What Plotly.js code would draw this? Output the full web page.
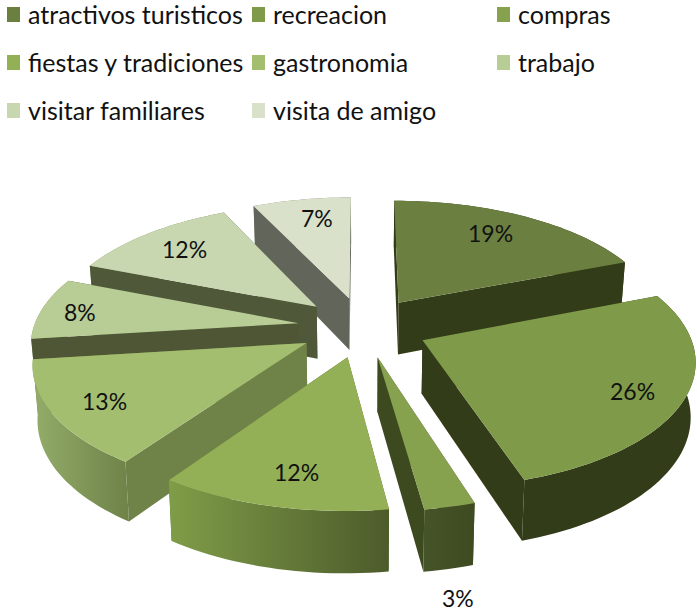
<!DOCTYPE html>
<html>
<head>
<meta charset="utf-8">
<script src="https://cdn.plot.ly/plotly-3.0.1.min.js"></script>
<style>html,body{margin:0;padding:0;background:#fff}#c{width:697px;height:612px}</style>
</head>
<body>
<div id="c"></div>
<script>
// ---- data ----
const categories = ["atractivos turisticos","recreacion","compras","fiestas y tradiciones","gastronomia","trabajo","visitar familiares","visita de amigo"];
const values = [19,26.2,2.6,11.8,13.4,8,12,7];
// ---- styles ----
const topColors  = ["#6b8040","#7f9a48","#87a24e","#93b056","#a4be70","#b8cc96","#c9d7b1","#d9e1cb"];
const wallColors = ["#333c19","#333c19","#3d4a20","#5a6b30","#6f8248","#4e5635","#50583a","#62655a"];
const rimLeft    = ["#333c19","#333c19","#46542a","#7f9d48","#93ad6a","#8aa060","#8aa060","#8a8f78"];
const rimRight   = ["#333c19","#333c19","#3e4a20","#4d5b2b","#6f8248","#6a7a48","#6a7a48","#6a6d60"];
const drawOrder  = [7,0,6,5,1,4,2,3];
const labelPos   = [[490,233],[632,391],[458,598],[296,472],[104,401],[80,312],[184,249],[317,218]];
const legendCols = [7,252,497];
const legendRows = [14,62,110];
const view = {cx:363, cy:327, q:0.463, k:0.00053, radius:265, pull:65, depth:53};
const font = "Lato, Carlito, sans-serif";

// ---- projection of the exploded pie ----
function project(X, Y, lower) {
  const s = 1 / (1 - view.k * Y);
  const x = view.cx + X * s, y = view.cy + view.q * Y * s;
  if (!lower) return [x, y];
  return [view.cx + (x - view.cx) * 0.985, y + view.depth * Math.pow(s, 0.85)];
}
const total = values.reduce((a, b) => a + b, 0);
let run = 0;
const slices = values.map(v => {
  const a = run / total * 2 * Math.PI; run += v;
  const b = run / total * 2 * Math.PI;
  const m = (a + b) / 2;
  return {a, b, ox: view.pull * Math.sin(m), oy: -view.pull * Math.cos(m)};
});
function rimPoint(sl, t) { return [sl.ox + view.radius * Math.sin(t), sl.oy - view.radius * Math.cos(t)]; }
function arc(sl) {
  const n = Math.max(4, Math.ceil((sl.b - sl.a) / 0.03)), pts = [];
  for (let i = 0; i <= n; i++) pts.push(rimPoint(sl, sl.a + (sl.b - sl.a) * i / n));
  return pts;
}
function poly(points, name, fill) {
  const tr = {type:"scatter", mode:"none", fill:"toself", name, showlegend:false, hoverinfo:"skip",
    x:points.map(p => p[0]), y:points.map(p => p[1])};
  if (Array.isArray(fill)) tr.fillgradient = {type:"horizontal", colorscale:[[0,fill[0]],[1,fill[1]]]};
  else tr.fillcolor = fill;
  return tr;
}
const traces = [];
drawOrder.forEach(i => {
  const sl = slices[i], name = categories[i], ap = [sl.ox, sl.oy], rim = arc(sl);
  const faces = [];
  [rim[0], rim[rim.length - 1]].forEach(r => {
    faces.push({depth:(ap[1] + r[1]) / 2, trace:poly([project(ap[0],ap[1]), project(r[0],r[1]), project(r[0],r[1],true), project(ap[0],ap[1],true)], name, wallColors[i])});
  });
  const up = rim.map(p => project(p[0],p[1]));
  const lo = rim.map(p => project(p[0],p[1],true)).reverse();
  faces.push({depth:rim.reduce((t, p) => t + p[1], 0) / rim.length, trace:poly(up.concat(lo), name, [rimLeft[i], rimRight[i]])});
  faces.sort((f, g) => f.depth - g.depth).forEach(f => traces.push(f.trace));
  traces.push(poly([project(ap[0],ap[1])].concat(up), name, topColors[i]));
});

const annotations = values.map((v, i) => ({
  xref:"x", yref:"y", x:labelPos[i][0], y:labelPos[i][1], text:Math.round(v) + "%", showarrow:false,
  font:{family:font, size:23, color:"#111"}
}));
const shapes = [];
categories.forEach((c, i) => {
  const col = legendCols[i % 3], row = legendRows[Math.floor(i / 3)];
  shapes.push({type:"rect", xref:"x", yref:"y", x0:col, x1:col + 13, y0:row - 7, y1:row + 8,
    fillcolor:topColors[i], line:{width:0}, layer:"above"});
  annotations.push({xref:"x", yref:"y", x:col + 18.5, y:row, xanchor:"left", yanchor:"middle",
    text:c, showarrow:false, font:{family:font, size:25, color:"#111"}});
});

Plotly.newPlot("c", traces, {
  width:697, height:612, margin:{l:0,r:0,t:0,b:0}, showlegend:false,
  paper_bgcolor:"#fff", plot_bgcolor:"#fff",
  xaxis:{range:[0,697], visible:false, fixedrange:true},
  yaxis:{range:[612,0], visible:false, fixedrange:true},
  shapes, annotations
}, {displayModeBar:false, staticPlot:true});
</script>
</body>
</html>
